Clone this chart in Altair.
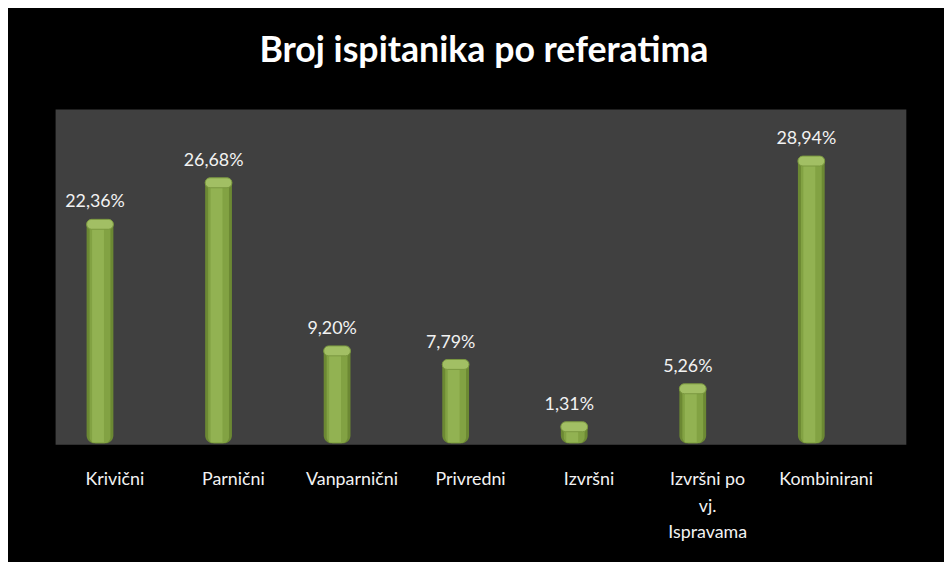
import altair as alt
import pandas as pd

categories = ["Krivični", "Parnični", "Vanparnični", "Privredni", "Izvršni",
              "Izvršni po vj. Ispravama", "Kombinirani"]
values = [22.36, 26.68, 9.20, 7.79, 1.31, 5.26, 28.94]
title_text = "Broj ispitanika po referatima"

df = pd.DataFrame({
    "cat": categories,
    "val": values,
    "lbl": [f"{v:.2f}".replace(".", ",") + "%" for v in values],
})

FONT = "Lato"
PW, PH = 858, 338

xs = alt.X("cat:N", sort=categories,
           scale=alt.Scale(paddingInner=0, paddingOuter=0.088, align=0),
           axis=alt.Axis(title=None, domain=False, ticks=False, labelAngle=0,
                         labelPadding=26, labelFontSize=18, labelFont=FONT,
                         labelColor="#f2f2f2", labelLineHeight=27,
                         labelExpr="datum.label == 'Izvršni po vj. Ispravama' ? ['Izvršni po', 'vj.', 'Ispravama'] : datum.label"))
ys = alt.Y("val:Q", scale=alt.Scale(domain=[-0.55, 34.3], nice=False, zero=False),
           axis=None)

BW = 27
XOFF = -15
CAP = 5

bar_base = alt.Chart(df).mark_bar(width=BW, xOffset=XOFF, color="#6c8933",
                                  cornerRadiusBottomLeft=8, cornerRadiusBottomRight=8,
                                  y2Offset=4).encode(x=xs, y=ys, y2=alt.datum(0))
bar_mid = alt.Chart(df).mark_bar(width=BW - 6, xOffset=XOFF, color="#82a243",
                                 cornerRadiusBottomLeft=6, cornerRadiusBottomRight=6,
                                 y2Offset=4).encode(x=xs, y=ys, y2=alt.datum(0))
bar_hi = alt.Chart(df).mark_bar(width=12, xOffset=XOFF - 2, color="#92b252",
                                y2Offset=3).encode(x=xs, y=ys, y2=alt.datum(0))
bar_top = alt.Chart(df).mark_bar(width=BW, xOffset=XOFF, yOffset=-CAP, y2Offset=CAP,
                                 cornerRadius=CAP, color="#a2bf64", stroke="#7a9840",
                                 strokeWidth=1).encode(x=xs, y=ys, y2=alt.Y2("val"))
labels = alt.Chart(df).mark_text(font=FONT, fontSize=18, color="#f2f2f2",
                                 baseline="bottom", dx=XOFF - 5, dy=-13).encode(
    x=xs, y=ys, text="lbl:N")

chart = alt.layer(bar_base, bar_mid, bar_hi, bar_top, labels).properties(
    width=PW, height=PH,
    background="black",
    autosize=alt.AutoSizeParams(type="none"),
    padding={"left": 48, "top": 100, "right": 38, "bottom": 116},
    title=alt.TitleParams(title_text, font=FONT, fontSize=36, fontWeight="bold",
                          color="white", anchor="middle", offset=40, dx=3),
).configure_view(stroke=None, fill="#404040")

chart.save("out.html", embed_options={"renderer": "svg", "actions": False})
